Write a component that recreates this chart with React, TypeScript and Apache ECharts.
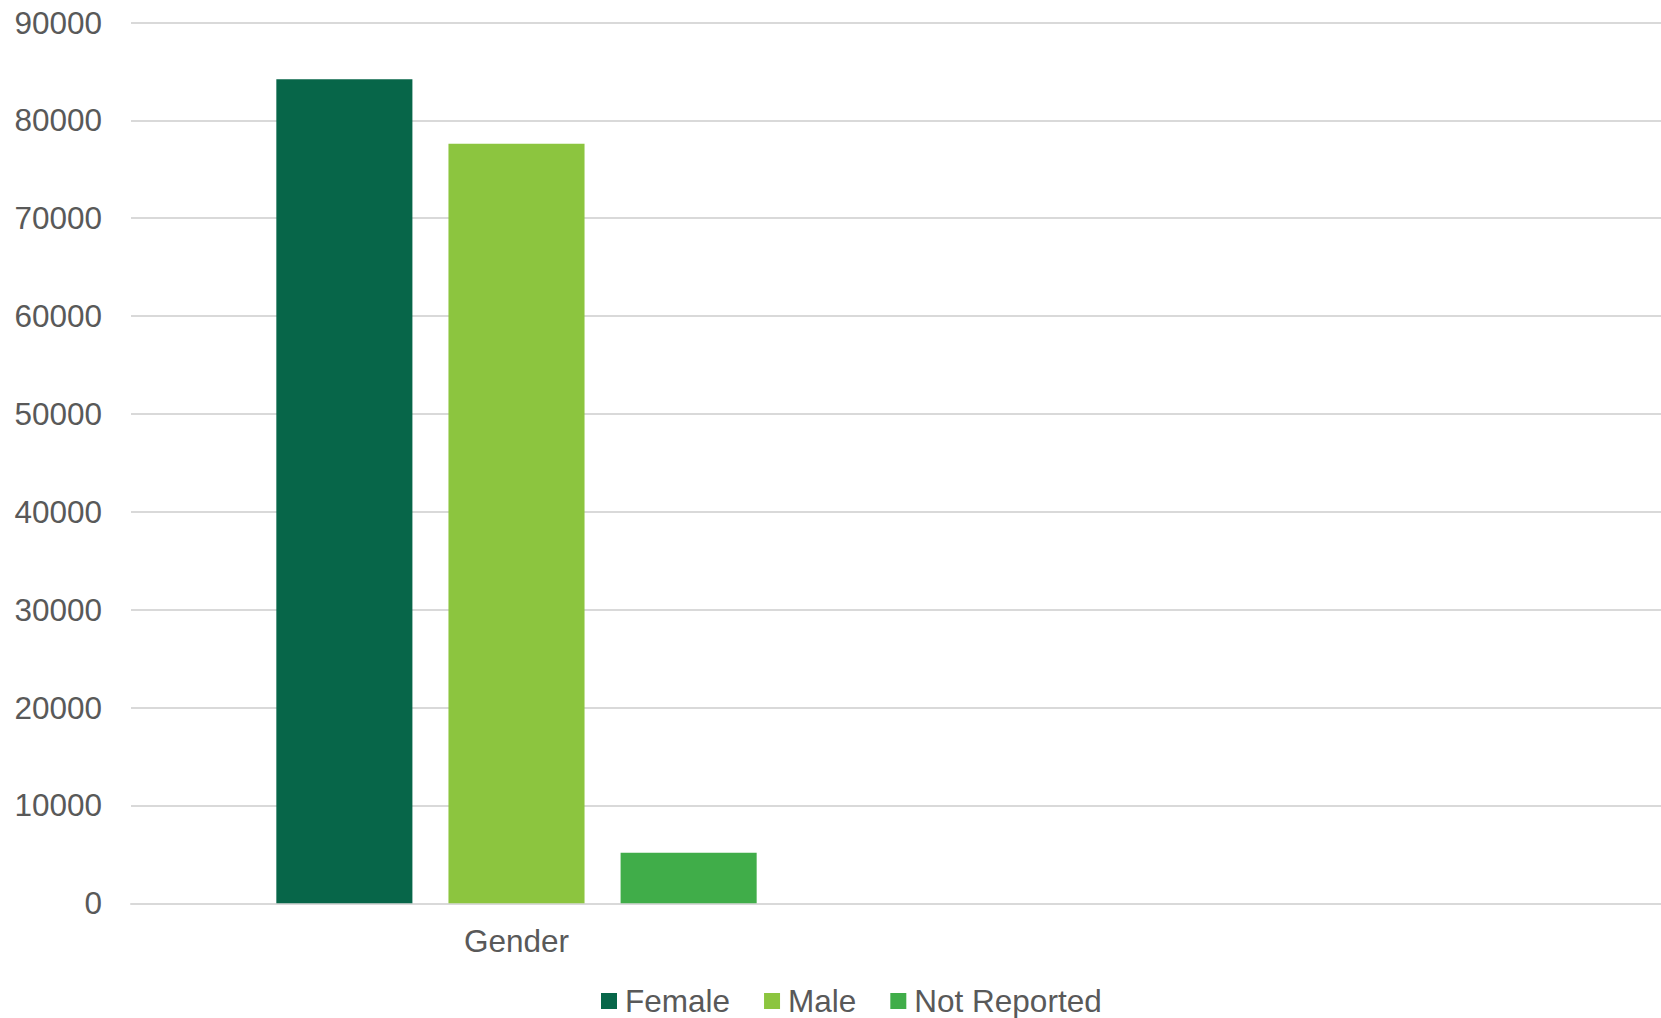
import React, { useEffect, useRef } from "react";
import * as echarts from "echarts";

const categories = ["Gender", ""];
const femaleValues = [84200, null];
const maleValues = [77600, null];
const notReportedValues = [5170, null];
const seriesNames = ["Female", "Male", "Not Reported"];
const seriesColors = ["#076649", "#8CC53F", "#40AD49"];
const yTicks = { min: 0, max: 90000, interval: 10000 };

export default function App() {
  const ref = useRef<HTMLDivElement>(null);
  useEffect(() => {
    if (!ref.current) return;
    const chart = echarts.init(ref.current, null, { renderer: "svg" });
    const font = "'Liberation Sans', Arial, sans-serif";
    const dataSets = [femaleValues, maleValues, notReportedValues];
    chart.setOption({
      animation: false,
      backgroundColor: "#ffffff",
      grid: { left: 131, right: 0, top: 22.5, bottom: 114.7, containLabel: false },
      legend: {
        left: 601,
        top: 985,
        padding: 0,
        itemWidth: 16,
        itemHeight: 16,
        itemGap: 34,
        icon: "rect",
        textStyle: { color: "#595959", fontSize: 31.5, fontFamily: font, padding: [0, 0, 0, 3], lineHeight: 32 },
        data: seriesNames,
      },
      xAxis: {
        type: "category",
        data: categories,
        axisLine: { show: true, lineStyle: { color: "#d9d9d9", width: 2 } },
        axisTick: { show: false },
        axisLabel: { color: "#595959", fontSize: 31.5, fontFamily: font, margin: 22 },
        splitLine: { show: false },
      },
      yAxis: {
        type: "value",
        min: yTicks.min,
        max: yTicks.max,
        interval: yTicks.interval,
        axisLine: { show: false },
        axisTick: { show: false },
        axisLabel: {
          color: "#595959",
          fontSize: 31.5,
          fontFamily: font,
          margin: 29,
          formatter: (v: number) => String(v),
        },
        splitLine: { show: true, lineStyle: { color: "#d9d9d9", width: 2 } },
      },
      series: seriesNames.map((name, i) => ({
        name,
        type: "bar",
        data: dataSets[i],
        barGap: "26.5%",
        barCategoryGap: "37.7%",
        itemStyle: { color: seriesColors[i] },
      })),
    });
    return () => chart.dispose();
  }, []);
  return (
    <div
      style={{
        position: "fixed",
        left: 0,
        top: 0,
        width: 1661,
        height: 1018,
        overflow: "hidden",
        background: "#fff",
      }}
    >
      <div ref={ref} style={{ width: 1673, height: 1018 }} />
    </div>
  );
}
